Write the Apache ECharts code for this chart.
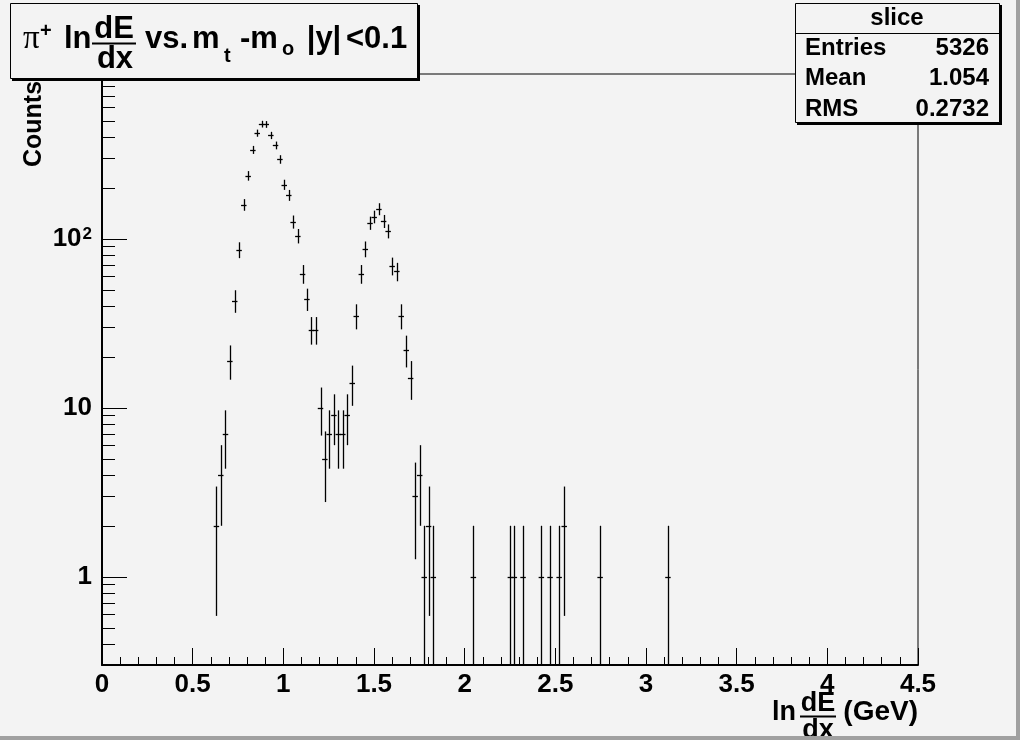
<!DOCTYPE html>
<html><head><meta charset="utf-8">
<script src="https://cdn.jsdelivr.net/npm/echarts@6/dist/echarts.min.js"></script>
<style>html,body{margin:0;padding:0;background:#f3f3f3}#c{width:1020px;height:740px}</style>
</head><body><div id="c"></div>
<script>
// ---- data ----
const binCenters = [0.631, 0.655, 0.681, 0.705, 0.732, 0.756, 0.782, 0.806, 0.832, 0.856, 0.880, 0.906,
  0.931, 0.957, 0.981, 1.005, 1.030, 1.054, 1.080, 1.106, 1.130, 1.155, 1.178,
  1.205, 1.229, 1.253, 1.279, 1.303, 1.328, 1.352, 1.380,
  1.402, 1.430, 1.452, 1.478, 1.501, 1.527, 1.553, 1.578, 1.600, 1.626, 1.650, 1.678, 1.702,
  1.727, 1.752, 1.777, 1.801, 1.827,
  2.048, 2.252, 2.274, 2.322, 2.423, 2.471, 2.521, 2.549, 2.747, 3.121];
const counts = [2, 4, 7, 19, 43, 86, 159, 236, 336, 422, 477, 475,
  409, 357, 295, 209, 181, 126, 104, 62, 44, 29, 29,
  10, 5, 7, 9, 7, 7, 9, 14,
  35, 62, 87, 124, 135, 150, 127, 111, 69, 64, 35, 22, 15,
  3, 4, 1, 2, 1,
  1, 1, 1, 1, 1, 1, 1, 2, 1, 1];
const binWidth = 0.0247;
const xMin = 0, xMax = 4.5, xInterval = 0.5;
const yMin = 0.3, yMax = 944;
const yMajorTicks = [1, 10, 100];
const yTickLabels = ['1', '10', '10{s|2}'];
const yMinorTicks = [0.3, 0.4, 0.5, 0.6, 0.7, 0.8, 0.9, 2, 3, 4, 5, 6, 7, 8, 9,
  20, 30, 40, 50, 60, 70, 80, 90, 200, 300, 400, 500, 600, 700, 800, 900];
const statsTitle = 'slice';
const statsNames = ['Entries', 'Mean', 'RMS'];
const statsValues = ['5326', '1.054', '0.2732'];

// ---- helpers ----
const FF = '"Liberation Sans", Arial, Helvetica, sans-serif';
function T(text, x, baseline, size, opts) {
  opts = opts || {};
  return {
    type: 'text', x: x, y: baseline - 0.35 * size, z: opts.z || 110,
    style: {
      text: text, fill: '#000',
      font: (opts.weight || 'bold') + ' ' + size + 'px ' + (opts.family || FF),
      align: opts.align || 'left', verticalAlign: 'middle'
    }
  };
}
function L(x1, y1, x2, y2, w, z) {
  return { type: 'line', z: z || 110, shape: { x1: x1, y1: y1, x2: x2, y2: y2 },
    style: { stroke: '#000', lineWidth: w || 1 } };
}
function R(x, y, w, h, fill, stroke, z) {
  return { type: 'rect', z: z || 100, shape: { x: x, y: y, width: w, height: h },
    style: { fill: fill, stroke: stroke || null, lineWidth: stroke ? 1 : 0 } };
}

function renderErr(params, api) {
  const x = api.value(0), n = api.value(1);
  const e = Math.sqrt(n);
  const lo = (n - e) > yMin ? (n - e) : yMin;
  const hi = Math.min(n + e, yMax);
  const pc = api.coord([x, n]);
  const pLo = api.coord([x, lo]);
  const pHi = api.coord([x, hi]);
  const pL = api.coord([x - binWidth / 2, n]);
  const pR = api.coord([x + binWidth / 2, n]);
  const cx = Math.round(pc[0]) + 0.5;
  const cy = Math.round(pc[1]) + 0.5;
  return { type: 'group', children: [
    { type: 'line', shape: { x1: cx, y1: pLo[1], x2: cx, y2: pHi[1] }, style: { stroke: '#000', lineWidth: 1.3 } },
    { type: 'line', shape: { x1: pL[0] - 0.5, y1: cy, x2: pR[0] + 0.5, y2: cy }, style: { stroke: '#000', lineWidth: 1.3 } }
  ]};
}
function renderTick(params, api) {
  const v = api.value(1), major = api.value(2);
  const p = api.coord([xMin, v]);
  const len = major ? 25 : 13;
  const y = Math.round(p[1]) + 0.5;
  return { type: 'line', shape: { x1: p[0], y1: y, x2: p[0] + len, y2: y }, style: { stroke: '#000', lineWidth: 1 } };
}

const errData = binCenters.map((x, i) => [x, counts[i]]);
const tickData = yMajorTicks.map(v => [xMin, v, 1]).concat(yMinorTicks.map(v => [xMin, v, 0]));

const chart = echarts.init(document.getElementById('c'), null, { renderer: 'canvas' });
chart.setOption({
  backgroundColor: '#f3f3f3',
  animation: false,
  grid: { left: 102, right: 102, top: 74, bottom: 75, show: true, borderColor: '#000', borderWidth: 1, backgroundColor: 'transparent' },
  xAxis: {
    type: 'value', min: xMin, max: xMax, interval: xInterval,
    axisLine: { onZero: false, lineStyle: { color: '#000', width: 2 } },
    axisTick: { inside: true, length: 17, lineStyle: { color: '#000', width: 1 } },
    minorTick: { show: true, splitNumber: 5, length: 8, lineStyle: { color: '#000', width: 1 } },
    splitLine: { show: false },
    axisLabel: { color: '#000', fontSize: 26, fontWeight: 'bold', fontFamily: FF, margin: 7,
      showMinLabel: true, showMaxLabel: true }
  },
  yAxis: {
    type: 'log', logBase: 10, min: yMin, max: yMax,
    axisLine: { show: true, onZero: false, lineStyle: { color: '#000', width: 2 } },
    axisTick: { show: false },
    minorTick: { show: false },
    splitLine: { show: false },
    axisLabel: {
      color: '#000', fontSize: 26, fontWeight: 'bold', fontFamily: FF, margin: 10,
      showMinLabel: false, showMaxLabel: false,
      rich: { s: { fontSize: 17, fontWeight: 'bold', fontFamily: FF, color: '#000', verticalAlign: 'top', padding: [0, 0, 0, 1] } },
      formatter: function (v) {
        for (let i = 0; i < yMajorTicks.length; i++) {
          if (Math.abs(v - yMajorTicks[i]) < 1e-6 * yMajorTicks[i]) return yTickLabels[i];
        }
        return '';
      }
    }
  },
  series: [
    { type: 'custom', name: 'yticks', renderItem: renderTick, data: tickData, clip: false, silent: true, z: 5 },
    { type: 'custom', name: 'slice', renderItem: renderErr, data: errData, clip: false, z: 10 }
  ],
  graphic: [
    // canvas bevel
    R(1016, 0, 4, 740, '#a0a0a0', null, 200),
    R(0, 736, 1020, 4, '#a0a0a0', null, 200),
    // y axis title (partly hidden under title box)
    { type: 'text', x: 34, y: 124, rotation: Math.PI / 2, z: 50,
      style: { text: 'Counts', fill: '#000', font: 'bold 25px ' + FF, align: 'center', verticalAlign: 'middle' } },
    // title box
    R(12, 5, 408, 76, '#000', null, 100),
    R(10.5, 3.5, 407, 75, '#f3f3f3', '#000', 101),
    T('π', 23, 51, 33, { weight: 'normal', family: '"Liberation Serif", "DejaVu Serif", serif' }),
    T('+', 40, 38, 20),
    T('ln', 64, 50, 31),
    T('dE', 114, 40, 31, { align: 'center' }),
    L(92, 43.5, 136, 43.5, 2),
    T('dx', 115, 70, 31, { align: 'center' }),
    T('vs.', 145, 50, 31),
    T('m', 192, 50, 31),
    T('t', 224, 63, 20),
    T('-m', 240, 50, 31),
    T('o', 282, 56, 20),
    T('|y|', 324, 50, 31, { align: 'center' }),
    T('<0.1', 346, 50, 31),
    // stats box
    R(797, 5, 205, 120, '#000', null, 100),
    R(795.5, 3.5, 204, 119, '#f3f3f3', '#000', 101),
    L(795.5, 33.5, 999.5, 33.5, 1),
    T(statsTitle, 897, 27, 24, { align: 'center' }),
    T(statsNames[0], 805, 57, 24), T(statsValues[0], 989, 57, 24, { align: 'right' }),
    T(statsNames[1], 805, 87, 24), T(statsValues[1], 989, 87, 24, { align: 'right' }),
    T(statsNames[2], 805, 118, 24), T(statsValues[2], 989, 118, 24, { align: 'right' }),
    // x axis title
    T('ln', 772, 722, 27, { z: 60 }),
    T('dE', 818, 713, 27, { align: 'center', z: 60 }),
    L(800, 716.5, 836, 716.5, 2, 60),
    T('dx', 818, 740, 27, { align: 'center', z: 60 }),
    T('(GeV)', 918, 722, 28, { align: 'right', z: 60 })
  ]
});
</script>
</body></html>
